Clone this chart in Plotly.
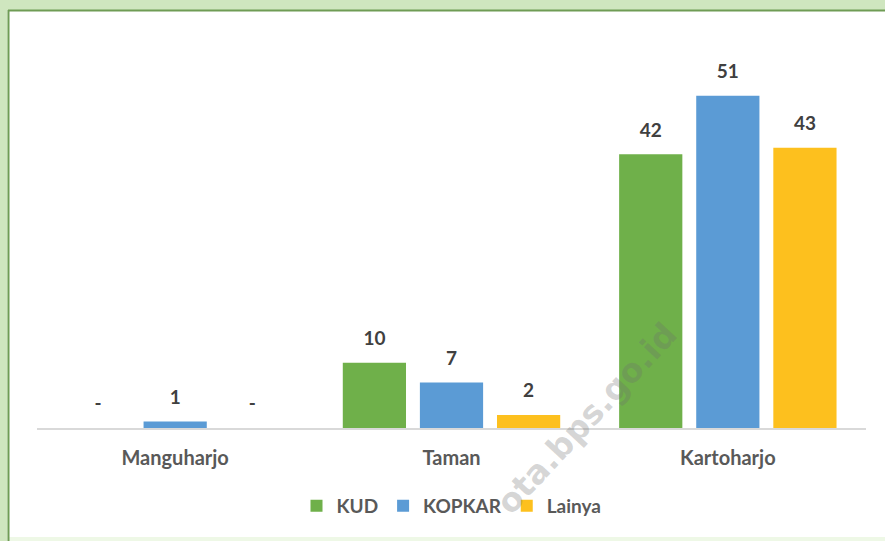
import plotly.graph_objects as go

categories = ["Manguharjo", "Taman", "Kartoharjo"]
series_names = ["KUD", "KOPKAR", "Lainya"]
kud = [0, 10, 42]
kopkar = [1, 7, 51]
lainya = [0, 2, 43]
values = [kud, kopkar, lainya]
colors = ["#6fb04a", "#5b9bd5", "#fdc01e"]

W, H = 885, 541
L, R, T, B = 37, 19, 37, 113
pw, ph = W - L - R, H - T - B

def px_x(x):
    return (x - L) / pw

def px_y(y):
    return (H - B - y) / ph

fig = go.Figure()
for name, vals, col in zip(series_names, values, colors):
    fig.add_trace(go.Bar(
        x=categories, y=vals, name=name, marker=dict(color=col, line=dict(width=0)),
        offsetgroup=name, alignmentgroup="g",
    ))
for name, vals, col in zip(series_names, values, colors):
    fig.add_trace(go.Scatter(
        x=categories, y=vals, mode="markers+text",
        text=[str(v) if v else "-" for v in vals],
        textposition="top center",
        textfont=dict(family="Lato", size=19, color="#404040", weight="bold"),
        marker=dict(size=19, opacity=0),
        offsetgroup=name, alignmentgroup="g",
        showlegend=False, hoverinfo="skip", cliponaxis=False,
    ))

shapes = [
    dict(type="rect", xref="paper", yref="paper", x0=px_x(0), x1=px_x(W), y0=px_y(0), y1=px_y(10),
         fillcolor="#cfe6bf", line=dict(width=0), layer="below"),
    dict(type="line", xref="paper", yref="paper", x0=px_x(8), x1=px_x(W), y0=px_y(10.5), y1=px_y(10.5),
         line=dict(color="#6f9c55", width=2)),
    dict(type="rect", xref="paper", yref="paper", x0=px_x(0), x1=px_x(7.5), y0=px_y(0), y1=px_y(H),
         fillcolor="#cfe6bf", line=dict(width=0), layer="below"),
    dict(type="line", xref="paper", yref="paper", x0=px_x(8.5), x1=px_x(8.5), y0=px_y(10), y1=px_y(H),
         line=dict(color="#6f9c55", width=2)),
    dict(type="rect", xref="paper", yref="paper", x0=px_x(9), x1=px_x(W), y0=px_y(537), y1=px_y(H),
         fillcolor="#eef8e6", line=dict(width=0), layer="below"),
]

fig.update_layout(
    width=W, height=H,
    margin=dict(l=L, r=R, t=T, b=B),
    paper_bgcolor="white", plot_bgcolor="white",
    barmode="group", bargap=0.163, bargroupgap=0.18,
    scattermode="group", scattergap=0.163,
    showlegend=True,
    legend=dict(orientation="h", x=0.5, xanchor="center", y=px_y(506), yanchor="middle",
                font=dict(family="Lato", size=19, color="#595959", weight="bold"),
                itemclick=False, traceorder="normal"),
    xaxis=dict(showline=True, linecolor="#d9d9d9", linewidth=2, showgrid=False, ticks="",
               ticklabelstandoff=11,
               tickfont=dict(family="Lato", size=20, color="#595959", weight="bold")),
    yaxis=dict(range=[0, 60], visible=False, showgrid=False, zeroline=False),
    shapes=shapes,
    annotations=[dict(
        text="ota.bps.go.id", xref="paper", yref="paper", x=px_x(586), y=px_y(418),
        xanchor="center", yanchor="middle",
        showarrow=False, textangle=-47,
        font=dict(family="DejaVu Sans", size=33, color="rgba(110,110,110,0.28)", weight="bold"),
    )],
)

fig.write_html("out.html",
               config={"displayModeBar": False},
               post_script="document.body.style.margin='0px';document.body.style.overflow='hidden';")
